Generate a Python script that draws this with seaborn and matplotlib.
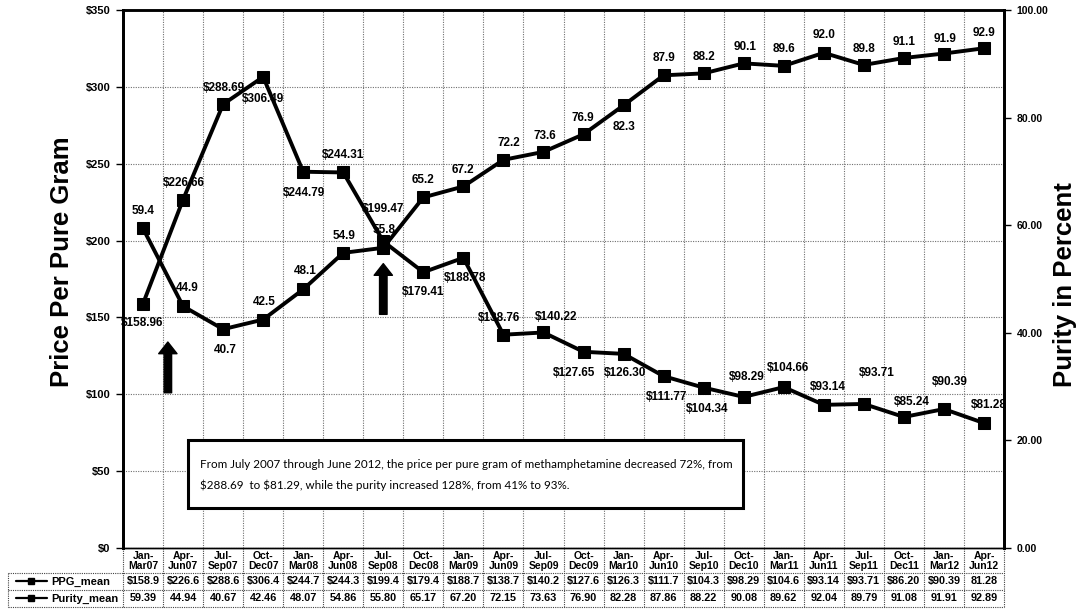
import numpy as np
import pandas as pd
import matplotlib
matplotlib.use("Agg")
import matplotlib.pyplot as plt
import matplotlib.transforms as mtransforms
from matplotlib.patches import Rectangle, FancyArrowPatch
from matplotlib.lines import Line2D
import seaborn as sns

# Quarterly methamphetamine price and purity, 2007-2012
quarters = ["Jan-\nMar07", "Apr-\nJun07", "Jul-\nSep07", "Oct-\nDec07",
            "Jan-\nMar08", "Apr-\nJun08", "Jul-\nSep08", "Oct-\nDec08",
            "Jan-\nMar09", "Apr-\nJun09", "Jul-\nSep09", "Oct-\nDec09",
            "Jan-\nMar10", "Apr-\nJun10", "Jul-\nSep10", "Oct-\nDec10",
            "Jan-\nMar11", "Apr-\nJun11", "Jul-\nSep11", "Oct-\nDec11",
            "Jan-\nMar12", "Apr-\nJun12"]
ppg_mean = [158.96, 226.66, 288.69, 306.49, 244.79, 244.31, 199.47, 179.41,
            188.78, 138.76, 140.22, 127.65, 126.30, 111.77, 104.34, 98.29,
            104.66, 93.14, 93.71, 85.24, 90.39, 81.28]
purity_mean = [59.39, 44.94, 40.67, 42.46, 48.07, 54.86, 55.80, 65.17, 67.20,
               72.15, 73.63, 76.90, 82.28, 87.86, 88.22, 90.08, 89.62, 92.04,
               89.79, 91.08, 91.91, 92.89]
ppg_table = ["$158.9", "$226.6", "$288.6", "$306.4", "$244.7", "$244.3",
             "$199.4", "$179.4", "$188.7", "$138.7", "$140.2", "$127.6",
             "$126.3", "$111.7", "$104.3", "$98.29", "$104.6", "$93.14",
             "$93.71", "$86.20", "$90.39", "81.28"]
price_ticks = [0, 50, 100, 150, 200, 250, 300, 350]
purity_ticks = [0, 20, 40, 60, 80, 100]
note_lines = [
    "From July 2007 through June 2012, the price per pure gram of methamphetamine decreased 72%, from",
    "$288.69  to $81.29, while the purity increased 128%, from 41% to 93%.",
]

# label offsets in pixels (dx, dy-up)
ppg_offsets = [(-1, -19), (1, 17), (1, 16), (0, -22), (1, -21), (0, 17), (0, 32),
               (0, -20), (2, -20), (-4, 17), (13, 15), (-9, -21), (2, -19),
               (3, -21), (3, -21), (3, 20), (4, 19), (4, 18), (13, 31), (8, 15),
               (6, 27), (5, 18)]
purity_offsets = [(0, 17), (4, 18), (2, -21), (1, 18), (2, 18), (1, 17), (1, 18),
                  (0, 17), (0, 16), (5, 17), (1, 16), (-1, 16), (0, -22), (0, 17),
                  (0, 16), (1, 16), (0, 17), (0, 18), (0, 16), (0, 16), (1, 15),
                  (0, 15)]

sns.set_style("white")
plt.rcParams["font.family"] = ["Liberation Sans", "DejaVu Sans"]
plt.rcParams["font.weight"] = "bold"
for key in ("text.color", "axes.labelcolor", "xtick.color", "ytick.color"):
    plt.rcParams[key] = "black"

W, H = 1082, 613
fig = plt.figure(figsize=(W / 100, H / 100), dpi=100)
fig.patch.set_facecolor("white")
ax = fig.add_axes([123 / W, 65 / H, 881 / W, 538 / H])
ax2 = ax.twinx()

pos = np.arange(len(quarters))
df = pd.DataFrame({"pos": pos, "ppg": ppg_mean, "purity": purity_mean})

line_kw = dict(color="black", linewidth=2.8, marker="s", markersize=8,
               markeredgecolor="black", markerfacecolor="black")
sns.lineplot(data=df, x="pos", y="ppg", ax=ax, **line_kw)
sns.lineplot(data=df, x="pos", y="purity", ax=ax2, **line_kw)

ax.set_xlim(-0.5, len(quarters) - 0.5)
ax.set_ylim(price_ticks[0], price_ticks[-1])
ax2.set_ylim(purity_ticks[0], purity_ticks[-1])
ax.set_xlabel("")
ax.set_ylabel("")
ax2.set_ylabel("")

ax.set_xticks([])
ax.set_xticks(np.arange(-0.5, len(quarters), 1), minor=True)
ax.set_yticks(price_ticks)
ax.yaxis.set_major_formatter(lambda v, p: f"${v:.0f}")
ax2.set_yticks(purity_ticks)
ax2.yaxis.set_major_formatter(lambda v, p: f"{v:.2f}")

grid_kw = dict(color="#707070", linestyle=(0, (1, 1.2)), linewidth=0.8)
ax.grid(which="minor", axis="x", **grid_kw)
ax.grid(which="major", axis="y", **grid_kw)
ax.tick_params(axis="x", which="both", length=0)
ax.tick_params(axis="y", direction="out", length=5, width=1, labelsize=8, pad=4,
               left=True, colors="black")
ax2.tick_params(axis="y", direction="out", length=5, width=1, labelsize=7.5,
                pad=4, right=True, colors="black")
for a in (ax, ax2):
    a.spines["left"].set_linewidth(2)
    a.spines["right"].set_linewidth(2)
    a.spines["top"].set_linewidth(1.8)
    a.spines["bottom"].set_linewidth(1)
    for s in a.spines.values():
        s.set_color("black")

# value labels
for i, v in enumerate(ppg_mean):
    dx, dy = ppg_offsets[i]
    ax2.annotate(f"${v:.2f}", (pos[i], v * 100 / 350), xytext=(dx, dy),
                 textcoords="offset pixels", ha="center", va="center",
                 fontsize=8.5, fontweight="bold", parse_math=False, zorder=6)
for i, v in enumerate(purity_mean):
    dx, dy = purity_offsets[i]
    ax2.annotate(f"{v:.1f}", (pos[i], v), xytext=(dx, dy),
                 textcoords="offset pixels", ha="center", va="center",
                 fontsize=8.5, fontweight="bold", zorder=6)

# upward arrows
for xa, y0, y1 in [(0.62, 101, 134), (6.0, 152, 185)]:
    ax.add_patch(FancyArrowPatch((xa, y0), (xa, y1),
                                 arrowstyle="simple,head_length=0.7,head_width=1.1,tail_width=0.45",
                                 mutation_scale=12, color="black",
                                 shrinkA=0, shrinkB=0, zorder=4))

# data table under the plot
blend = mtransforms.blended_transform_factory(ax.transData, ax.transAxes)
y_head, y_r1, y_r2 = -0.0465, -0.078, -0.1097
x_leg = -0.1305
tbl_kw = dict(color="#444444", linestyle=(0, (1, 1)), linewidth=0.8, clip_on=False)
for yy in (y_head, y_r1, y_r2):
    ax.plot([x_leg, 1], [yy, yy], transform=ax.transAxes, **tbl_kw)
for b in np.arange(-0.5, len(quarters), 1):
    ax.plot([b, b], [0, y_r2], transform=blend, **tbl_kw)
ax.plot([x_leg, x_leg], [y_head, y_r2], transform=ax.transAxes, **tbl_kw)

for i, q in enumerate(quarters):
    ax.text(pos[i], y_head / 2, q, transform=blend, ha="center", va="center",
            fontsize=7.5, fontweight="bold", linespacing=1.0)
    ax.text(pos[i], (y_head + y_r1) / 2, ppg_table[i], transform=blend,
            ha="center", va="center", fontsize=7.8, fontweight="bold",
            parse_math=False)
    ax.text(pos[i], (y_r1 + y_r2) / 2, f"{purity_mean[i]:.2f}", transform=blend,
            ha="center", va="center", fontsize=7.8, fontweight="bold")

for name, yy in [("PPG_mean", (y_head + y_r1) / 2), ("Purity_mean", (y_r1 + y_r2) / 2)]:
    ax.add_line(Line2D([-0.122, -0.0865], [yy, yy], transform=ax.transAxes,
                       color="black", lw=1.6, clip_on=False))
    ax.add_line(Line2D([-0.104], [yy], transform=ax.transAxes, marker="s",
                       ms=4.5, color="black", clip_on=False))
    ax.text(-0.082, yy, name, transform=ax.transAxes, ha="left", va="center",
            fontsize=8, fontweight="bold")

# axis titles
fig.text(62 / W, 1 - 262 / H, "Price Per Pure Gram", rotation=90, ha="center",
         va="center", fontsize=18.5, fontweight="bold")
fig.text(1065 / W, 1 - 285 / H, "Purity in Percent", rotation=90, ha="center",
         va="center", fontsize=18.5, fontweight="bold")

# summary note
fig.add_artist(Rectangle((188 / W, 1 - 508 / H), 555 / W, 68 / H,
                         transform=fig.transFigure, facecolor="white",
                         edgecolor="black", linewidth=2.2, zorder=5))
t1 = fig.text(200 / W, 1 - 465 / H, note_lines[0], ha="left", va="center",
              fontsize=9.5, fontweight="normal", family=["Lato", "DejaVu Sans"],
              parse_math=False, zorder=6)
t2 = fig.text(200 / W, 1 - 485 / H, note_lines[1], ha="left", va="center",
              fontsize=9.5, fontweight="normal", family=["Lato", "DejaVu Sans"],
              parse_math=False, zorder=6)
renderer = fig.canvas.get_renderer()
wid = t1.get_window_extent(renderer).width
scale = 531 / wid
for t in (t1, t2):
    t.set_fontsize(9.5 * scale)

fig.savefig("out.png", dpi=100)
